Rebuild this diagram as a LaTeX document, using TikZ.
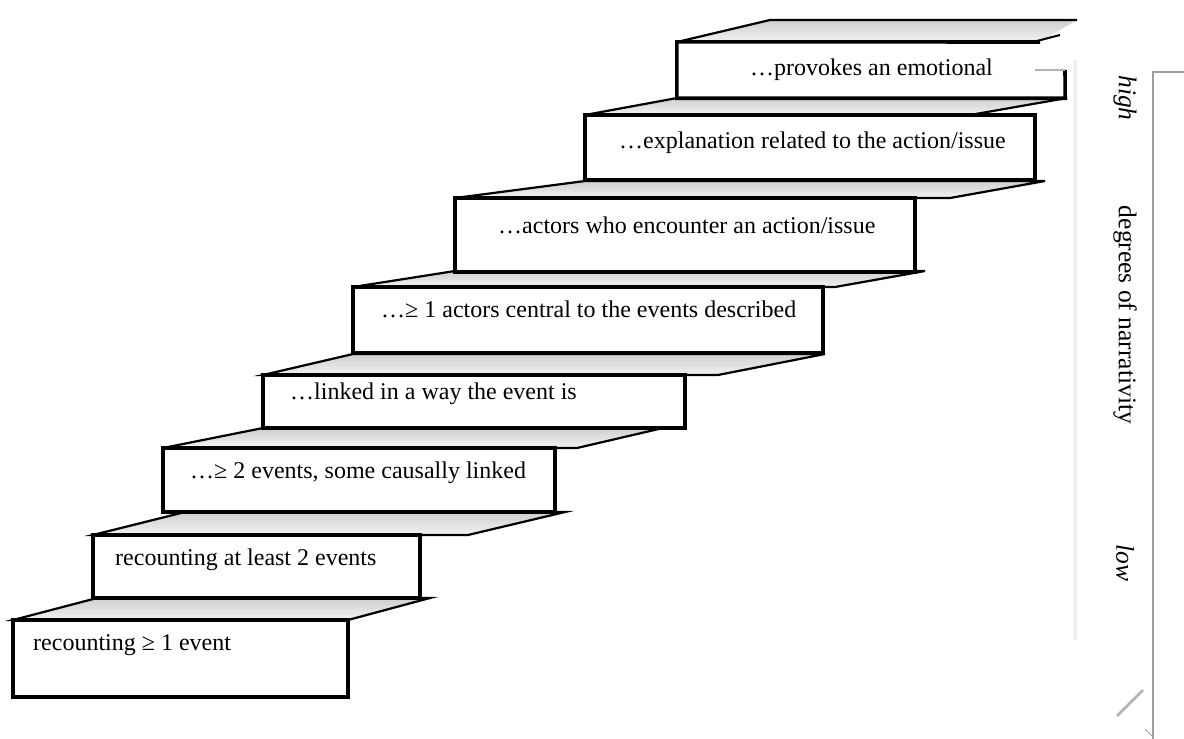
\documentclass[tikz,border=0pt]{standalone}
\usepackage{fontspec}
\setmainfont{Liberation Serif}
\begin{document}
\begin{tikzpicture}[x=1pt,y=-1pt,
  stepbox/.style={draw=black,line width=3.6pt,fill=white,inner sep=0pt},
  facefill/.style={draw=black,line width=2.2pt,line join=miter,top color=gray!38,bottom color=gray!10},
  steptext/.style={anchor=west,inner sep=0pt,font=\fontsize{24}{28}\selectfont},
  sidetext/.style={rotate=-90,inner sep=0pt,font=\fontsize{25.5}{30}\selectfont},
  axisline/.style={draw=gray!75,line width=2pt}]
\useasboundingbox (0,0) rectangle (1184,739);
\fill[white] (0,0) rectangle (1184,739);

% top faces (treads)
\path[facefill] (13,620) -- (97,598) -- (430,598) -- (348,620) -- cycle;
\path[facefill] (93,535) -- (185,512) -- (565,512) -- (468,535) -- cycle;
\path[facefill] (163,448) -- (263,428) -- (685,428) -- (663,428) -- (577,448) -- cycle;
\path[facefill] (263,375) -- (353,354) -- (825,354) -- (718,375) -- cycle;
\path[facefill] (353,287) -- (455,271) -- (925,271) -- (835,287) -- cycle;
\path[facefill] (455,198) -- (585,181) -- (1045,181) -- (950,198) -- cycle;
\path[facefill] (585,115) -- (677,98) -- (1067,98) -- (970,115) -- cycle;
\path[top color=gray!38,bottom color=gray!10] (677,42) -- (770,20) -- (1077,20) -- (1040,42) -- cycle;
\draw[line width=2.2pt] (677,42) -- (770,20) -- (1077,20);

% front faces (risers)
\node[stepbox,minimum width=335,minimum height=77] (s1) at (180.5,658.5) {};
\node[stepbox,minimum width=327,minimum height=63] (s2) at (256.5,566.5) {};
\node[stepbox,minimum width=392,minimum height=64] (s3) at (359,480) {};
\node[stepbox,minimum width=422,minimum height=53] (s4) at (474,401.5) {};
\node[stepbox,minimum width=470,minimum height=66] (s5) at (588,320) {};
\node[stepbox,minimum width=460,minimum height=74] (s6) at (685,235) {};
\node[stepbox,minimum width=450,minimum height=65] (s7) at (810,147.5) {};
\node[fill=white,draw=none,inner sep=0pt,minimum width=388,minimum height=56] (s8) at (871,70) {};
\coordinate (s8tr) at (1040,42);
\coordinate (s8re) at (1065,70);
\draw[line width=3.6pt] (s8re) -- (s8.south east) -- (s8.south west) -- (s8.north west) -- (s8tr);
\draw[line width=2pt] (1033,42) -- (1060,35);
\draw[gray!60,line width=2pt] (1035,70) -- (s8re);

% step texts
\node[steptext] (t1) at (33,645) {recounting ≥ 1 event};
\node[steptext] (t2) at (115,560) {recounting at least 2 events};
\node[steptext] (t3) at (190,473) {…≥ 2 events, some causally linked};
\node[steptext] (t4) at (290,394) {…linked in a way the event is};
\node[steptext] (t5) at (381,309) {…≥ 1 actors central to the events described};
\node[steptext] (t6) at (498,225) {…actors who encounter an action/issue};
\node[steptext] (t7) at (619,143) {…explanation related to the action/issue};
\node[steptext] (t8) at (750,70) {…provokes an emotional};

% axis on the right
\draw[gray!12,line width=4pt] (1075,60) -- (1075,640);
\coordinate (atop) at (1153,72);
\coordinate (atopr) at (1184,72);
\coordinate (abot) at (1153,739);
\draw[axisline] (atopr) -- (atop) -- (abot);
\coordinate (d1) at (1117,716);
\coordinate (d2) at (1143,690);
\draw[gray!60,line width=2.6pt] (d1) -- (d2);
\coordinate (d3) at (1145,729);
\coordinate (d4) at (1153,737);
\draw[gray!70,line width=1pt] (d3) -- (d4);

\node[sidetext,font=\itshape\fontsize{25.5}{30}\selectfont] (hi) at (1125,98) {high};
\node[sidetext] (deg) at (1125,315) {degrees of narrativity};
\node[sidetext,font=\itshape\fontsize{25.5}{30}\selectfont] (lo) at (1125,563) {low};
\end{tikzpicture}
\end{document}
